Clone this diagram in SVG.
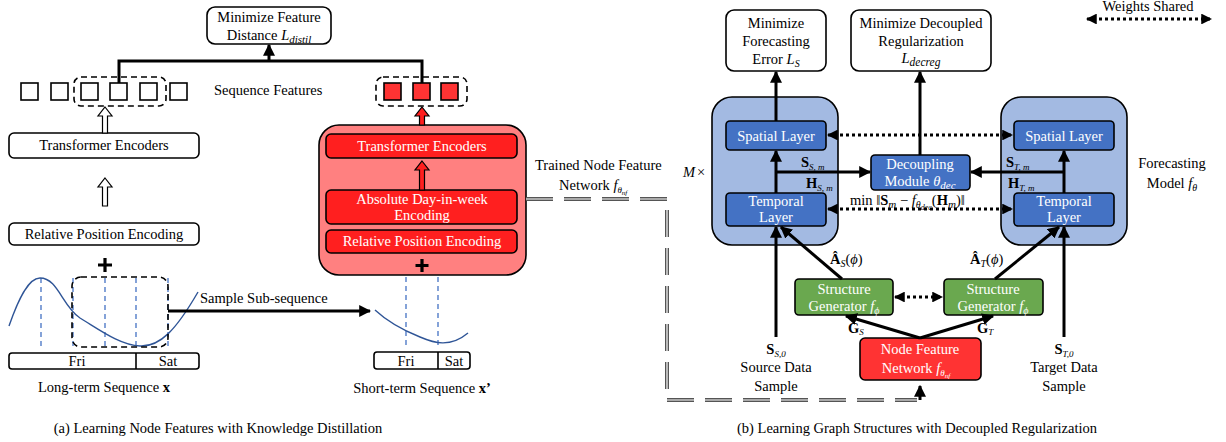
<svg xmlns="http://www.w3.org/2000/svg" width="1226" height="442" viewBox="0 0 1226 442">
  <defs>
    <marker id="ah" viewBox="0 0 10 10" refX="9" refY="5" markerWidth="4" markerHeight="4" orient="auto-start-reverse" markerUnits="strokeWidth">
      <path d="M0,0 L10,5 L0,10 z" fill="#000"/>
    </marker>
    <marker id="ahs" viewBox="0 0 10 10" refX="9" refY="5" markerWidth="3.6" markerHeight="3.6" orient="auto-start-reverse" markerUnits="strokeWidth">
      <path d="M0,0 L10,5 L0,10 z" fill="#000"/>
    </marker>
    <style>
      text { font-family: "Liberation Serif", "Times New Roman", serif; font-size: 14.5px; fill: #000; }
      .c { text-anchor: middle; }
      .w { fill: #fff; }
      .it { font-style: italic; }
      .b { font-weight: bold; }
      .box { fill: #fff; stroke: #000; stroke-width: 1.6; }
      .redin { fill: #ff1f1f; stroke: #000; stroke-width: 1.6; }
      .redout { fill: #ff8080; stroke: #000; stroke-width: 1.6; }
      .bluein { fill: #4472c4; stroke: #000; stroke-width: 1.6; }
      .blueout { fill: #a3bae2; stroke: #000; stroke-width: 1.6; }
      .green { fill: #6aa84f; stroke: #000; stroke-width: 1.6; }
      .nfn { fill: #ff3333; stroke: #000; stroke-width: 1.6; }
      .sq { fill: #fff; stroke: #000; stroke-width: 1.6; }
      .sqr { fill: #ff3333; stroke: #000; stroke-width: 1.6; }
      .dbox { fill: none; stroke: #000; stroke-width: 1.6; stroke-dasharray: 6 4; }
      .vd { stroke: #4472c4; stroke-width: 1.3; stroke-dasharray: 5 4; fill: none; }
      .curve { stroke: #2f5597; stroke-width: 1.4; fill: none; }
      .line { stroke: #000; stroke-width: 3; fill: none; }
      .arr { stroke: #000; stroke-width: 3; fill: none; marker-end: url(#ah); }
      .dot2 { stroke: #000; stroke-width: 3; fill: none; stroke-dasharray: 3 3; marker-start: url(#ahs); marker-end: url(#ahs); }
      .hol { fill: #fff; stroke: #000; stroke-width: 1.2; }
      .holr { fill: #ff1f1f; stroke: #000; stroke-width: 1.2; }
      .plus { stroke: #000; stroke-width: 3.2; fill: none; }
      .dblo { stroke: #555; stroke-width: 4; fill: none; stroke-dasharray: 27 11; }
      .dbli { stroke: #fff; stroke-width: 1.2; fill: none; stroke-dasharray: 27 11; }
    </style>
  </defs>

  <!-- ===== Part (a): node feature learning ===== -->
  <g id="min-feature-distance">
    <rect class="box" x="207" y="7" width="124" height="37" rx="8"/>
    <text class="c" x="269" y="22">Minimize Feature</text>
    <text class="c" x="269" y="40">Distance <tspan class="it">L</tspan><tspan class="it" font-size="11" dy="3">distil</tspan></text>
  </g>

  <g id="long-seq-features">
    <rect class="sq" x="21" y="83" width="17" height="17"/>
    <rect class="sq" x="51" y="83" width="17" height="17"/>
    <rect class="sq" x="81" y="83" width="17" height="17"/>
    <rect class="sq" x="110" y="83" width="17" height="17"/>
    <rect class="sq" x="140" y="83" width="17" height="17"/>
    <rect class="sq" x="170" y="83" width="17" height="17"/>
    <rect class="dbox" x="74" y="77" width="92" height="29" rx="7"/>
  </g>
  <text x="214" y="95">Sequence Features</text>

  <g id="short-seq-features">
    <rect class="sqr" x="384" y="83" width="17" height="17"/>
    <rect class="sqr" x="413" y="83" width="17" height="17"/>
    <rect class="sqr" x="441" y="83" width="17" height="17"/>
    <rect class="dbox" x="376" y="77" width="91" height="29" rx="7"/>
  </g>

  <g id="teacher-encoders">
    <rect class="box" x="9" y="133" width="190" height="25" rx="5"/>
    <text class="c" x="104" y="150">Transformer Encoders</text>
  </g>

  <g id="teacher-rpe">
    <rect class="box" x="9" y="223" width="190" height="22" rx="5"/>
    <text class="c" x="104" y="239">Relative Position Encoding</text>
  </g>

  <g id="long-term-sequence">
    <path class="plus" d="M105,258 V272 M98,265 H112"/>
    <path class="vd" d="M41,278 V346 M73,278 V346 M105,278 V346 M136,278 V346 M168,278 V346"/>
    <path class="curve" d="M9,326 C18,300 28,278 40,278 C58,278 62,306 80,318 C100,330 120,345 140,346 C160,347 176,330 198,292"/>
    <rect class="dbox" x="72" y="277" width="96" height="70" rx="9"/>
    <rect class="box" x="9" y="353" width="190" height="16" rx="3"/>
    <line x1="136" y1="353" x2="136" y2="369" stroke="#000" stroke-width="1.6"/>
    <text class="c" x="77" y="366">Fri</text>
    <text class="c" x="168" y="366">Sat</text>
    <text class="c" x="104" y="392">Long-term Sequence <tspan class="b">x</tspan></text>
  </g>

  <g id="student-network">
    <rect class="redout" x="319" y="125" width="207" height="150" rx="20"/>
    <rect class="redin" x="326" y="134" width="191" height="24" rx="5"/>
    <text class="c w" x="422" y="151">Transformer Encoders</text>
    <rect class="redin" x="326" y="190" width="191" height="34" rx="5"/>
    <text class="c w" x="422" y="204">Absolute Day-in-week</text>
    <text class="c w" x="422" y="220">Encoding</text>
    <rect class="redin" x="326" y="230" width="191" height="23" rx="5"/>
    <text class="c w" x="422" y="246">Relative Position Encoding</text>
    <path class="plus" d="M422,259 V272 M415.5,265.5 H428.5"/>
  </g>

  <g id="short-term-sequence">
    <path class="vd" d="M406,277 V345 M438,277 V345"/>
    <path class="curve" d="M375,310 C390,324 405,331 420,337 C434,343 450,348 468,333"/>
    <rect class="box" x="374" y="352" width="96" height="17" rx="3"/>
    <line x1="438" y1="352" x2="438" y2="369" stroke="#000" stroke-width="1.6"/>
    <text class="c" x="406" y="366">Fri</text>
    <text class="c" x="454" y="366">Sat</text>
    <text class="c" x="422" y="393">Short-term Sequence <tspan class="b">x’</tspan></text>
  </g>

  <text class="c" x="218" y="433">(a) Learning Node Features with Knowledge Distillation</text>

  <!-- ===== Part (b): graph structure learning ===== -->
  <g id="min-forecast-error">
    <rect class="box" x="726" y="10" width="100" height="61" rx="8"/>
    <text class="c" x="776" y="28">Minimize</text>
    <text class="c" x="776" y="46">Forecasting</text>
    <text class="c" x="776" y="64">Error <tspan class="it">L</tspan><tspan class="it" font-size="10" dy="3">S</tspan></text>
  </g>

  <g id="min-decoupled-reg">
    <rect class="box" x="851" y="10" width="140" height="61" rx="8"/>
    <text class="c" x="921" y="28">Minimize Decoupled</text>
    <text class="c" x="921" y="46">Regularization</text>
    <text class="c" x="921" y="63"><tspan class="it">L</tspan><tspan class="it" font-size="11.5" dy="3">decreg</tspan></text>
  </g>

  <g id="legend-weights-shared">
    <text class="c" x="1148" y="11" font-size="13.5">Weights Shared</text>
  </g>

  <g id="source-model">
    <rect class="blueout" x="712" y="97" width="126" height="148" rx="20"/>
    <rect class="bluein" x="726" y="121" width="100" height="29" rx="4"/>
    <text class="c w" x="776" y="141">Spatial Layer</text>
    <rect class="bluein" x="726" y="193" width="100" height="33" rx="4"/>
    <text class="c w" x="776" y="206">Temporal</text>
    <text class="c w" x="776" y="222">Layer</text>
  </g>

  <g id="target-model">
    <rect class="blueout" x="1001" y="97" width="126" height="148" rx="20"/>
    <rect class="bluein" x="1014" y="121" width="100" height="29" rx="4"/>
    <text class="c w" x="1064" y="141">Spatial Layer</text>
    <rect class="bluein" x="1014" y="193" width="100" height="33" rx="4"/>
    <text class="c w" x="1064" y="206">Temporal</text>
    <text class="c w" x="1064" y="222">Layer</text>
  </g>

  <g id="decoupling-module">
    <rect class="bluein" x="871" y="155" width="99" height="35" rx="4"/>
    <text class="c w" x="920" y="169">Decoupling</text>
    <text class="c w" x="920" y="186">Module <tspan class="it">θ</tspan><tspan class="it" font-size="11" dy="3">dec</tspan></text>
  </g>

  <g id="source-generator">
    <rect class="green" x="795" y="279" width="98" height="36" rx="4"/>
    <text class="c w" x="844" y="294">Structure</text>
    <text class="c w" x="844" y="311">Generator <tspan class="it">f</tspan><tspan class="it" font-size="10" dy="3">ϕ</tspan></text>
  </g>

  <g id="target-generator">
    <rect class="green" x="944" y="279" width="99" height="36" rx="4"/>
    <text class="c w" x="993" y="294">Structure</text>
    <text class="c w" x="993" y="311">Generator <tspan class="it">f</tspan><tspan class="it" font-size="10" dy="3">ϕ</tspan></text>
  </g>

  <g id="node-feature-network">
    <rect class="nfn" x="860" y="338" width="121" height="42" rx="5"/>
    <text class="c w" x="920" y="354">Node Feature</text>
    <text class="c w" x="916" y="373">Network <tspan class="it">f</tspan><tspan class="it" font-size="9" dy="3">θ</tspan><tspan class="it" font-size="7" dy="2">nf</tspan></text>
  </g>

  <!-- free labels -->
  <text x="535" y="170">Trained Node Feature</text>
  <text x="559" y="190">Network <tspan class="it">f</tspan><tspan class="it" font-size="9" dy="3">θ</tspan><tspan class="it" font-size="7" dy="2">nf</tspan></text>
  <text x="683" y="177" class="it">M</text><text x="697" y="177">×</text>
  <text class="c" x="1172" y="168">Forecasting</text>
  <text class="c" x="1172" y="188">Model <tspan class="it">f</tspan><tspan class="it" font-size="10" dy="3">θ</tspan></text>
  <text x="801" y="167"><tspan class="b">S</tspan><tspan class="it" font-size="9" dy="3">S, m</tspan></text>
  <text x="806" y="188"><tspan class="b">H</tspan><tspan class="it" font-size="9" dy="3">S, m</tspan></text>
  <text x="1006" y="167"><tspan class="b">S</tspan><tspan class="it" font-size="9" dy="3">T, m</tspan></text>
  <text x="1008" y="188"><tspan class="b">H</tspan><tspan class="it" font-size="9" dy="3">T, m</tspan></text>
  <text x="850" y="205" font-size="15.5">min ‖<tspan class="b">S</tspan><tspan class="it" font-size="11" dy="3">m</tspan><tspan dy="-3"> − </tspan><tspan class="it">f</tspan><tspan class="it" font-size="10" dy="3">θ</tspan><tspan class="it" font-size="8" dy="2">dec</tspan><tspan dy="-5">(</tspan><tspan class="b">H</tspan><tspan class="it" font-size="11" dy="3">m</tspan><tspan dy="-3">)‖</tspan></text>
  <text x="830" y="264"><tspan class="b">Â</tspan><tspan class="it" font-size="10" dy="3">S</tspan><tspan dy="-3">(</tspan><tspan class="it">ϕ</tspan>)</text>
  <text x="970" y="264"><tspan class="b">Â</tspan><tspan class="it" font-size="10" dy="3">T</tspan><tspan dy="-3">(</tspan><tspan class="it">ϕ</tspan>)</text>
  <text x="848" y="333"><tspan class="b">G</tspan><tspan class="it" font-size="9" dy="2">S</tspan></text>
  <text x="977" y="333"><tspan class="b">G</tspan><tspan class="it" font-size="9" dy="2">T</tspan></text>
  <text class="c" x="776" y="354"><tspan class="b">S</tspan><tspan class="it" font-size="9" dy="3">S,0</tspan></text>
  <text class="c" x="776" y="372">Source Data</text>
  <text class="c" x="776" y="391">Sample</text>
  <text class="c" x="1064" y="354"><tspan class="b">S</tspan><tspan class="it" font-size="9" dy="3">T,0</tspan></text>
  <text class="c" x="1064" y="372">Target Data</text>
  <text class="c" x="1064" y="391">Sample</text>
  <text x="200" y="303">Sample Sub-sequence</text>

  <text class="c" x="917" y="433">(b) Learning Graph Structures with Decoupled Regularization</text>

  <!-- ===== Connectors ===== -->
  <g id="connectors">
    <!-- distillation link between the two feature sets -->
    <path class="line" d="M119,83 V61 H422 V83"/>
    <path class="arr" d="M269,61 V45"/>
    <!-- hollow block arrows -->
    <polygon class="hol" points="105,107 112,116 107.5,116 107.5,133 102.5,133 102.5,116 98,116"/>
    <polygon class="hol" points="105,178 112,187 107.5,187 107.5,206 102.5,206 102.5,187 98,187"/>
    <polygon class="holr" points="422,107 429,116 424.5,116 424.5,125 419.5,125 419.5,116 415,116"/>
    <polygon class="holr" points="422,161 429,170 424.5,170 424.5,190 419.5,190 419.5,170 415,170"/>
    <!-- sub-sequence sampling -->
    <path class="arr" d="M168,311 H370"/>
    <!-- trained network hand-off (double line) -->
    <path class="dblo" d="M526,199 H667 V400 H917"/>
    <path class="dbli" d="M526,199 H667 V400 H917"/>
    <path class="arr" d="M920,400 V386" stroke-width="2.5"/>
    <!-- forecasting models -->
    <path class="arr" d="M776,121 V72"/>
    <path class="arr" d="M920,155 V72"/>
    <path class="arr" d="M776,193 V151"/>
    <path class="arr" d="M1064,193 V151"/>
    <path class="arr" d="M776,172 H870"/>
    <path class="arr" d="M1064,172 H971"/>
    <path class="dot2" d="M828,135 H1012"/>
    <path class="dot2" d="M828,209 H1012"/>
    <path class="dot2" d="M895,297 H942"/>
    <path class="dot2" d="M1087,19 H1211"/>
    <!-- inputs -->
    <path class="arr" d="M776,337 V227"/>
    <path class="arr" d="M1064,337 V227"/>
    <path class="arr" d="M842,279 L781,227"/>
    <path class="arr" d="M995,279 L1059,227"/>
    <path class="arr" d="M920,338 L846,316"/>
    <path class="arr" d="M920,338 L993,316"/>
  </g>
</svg>
